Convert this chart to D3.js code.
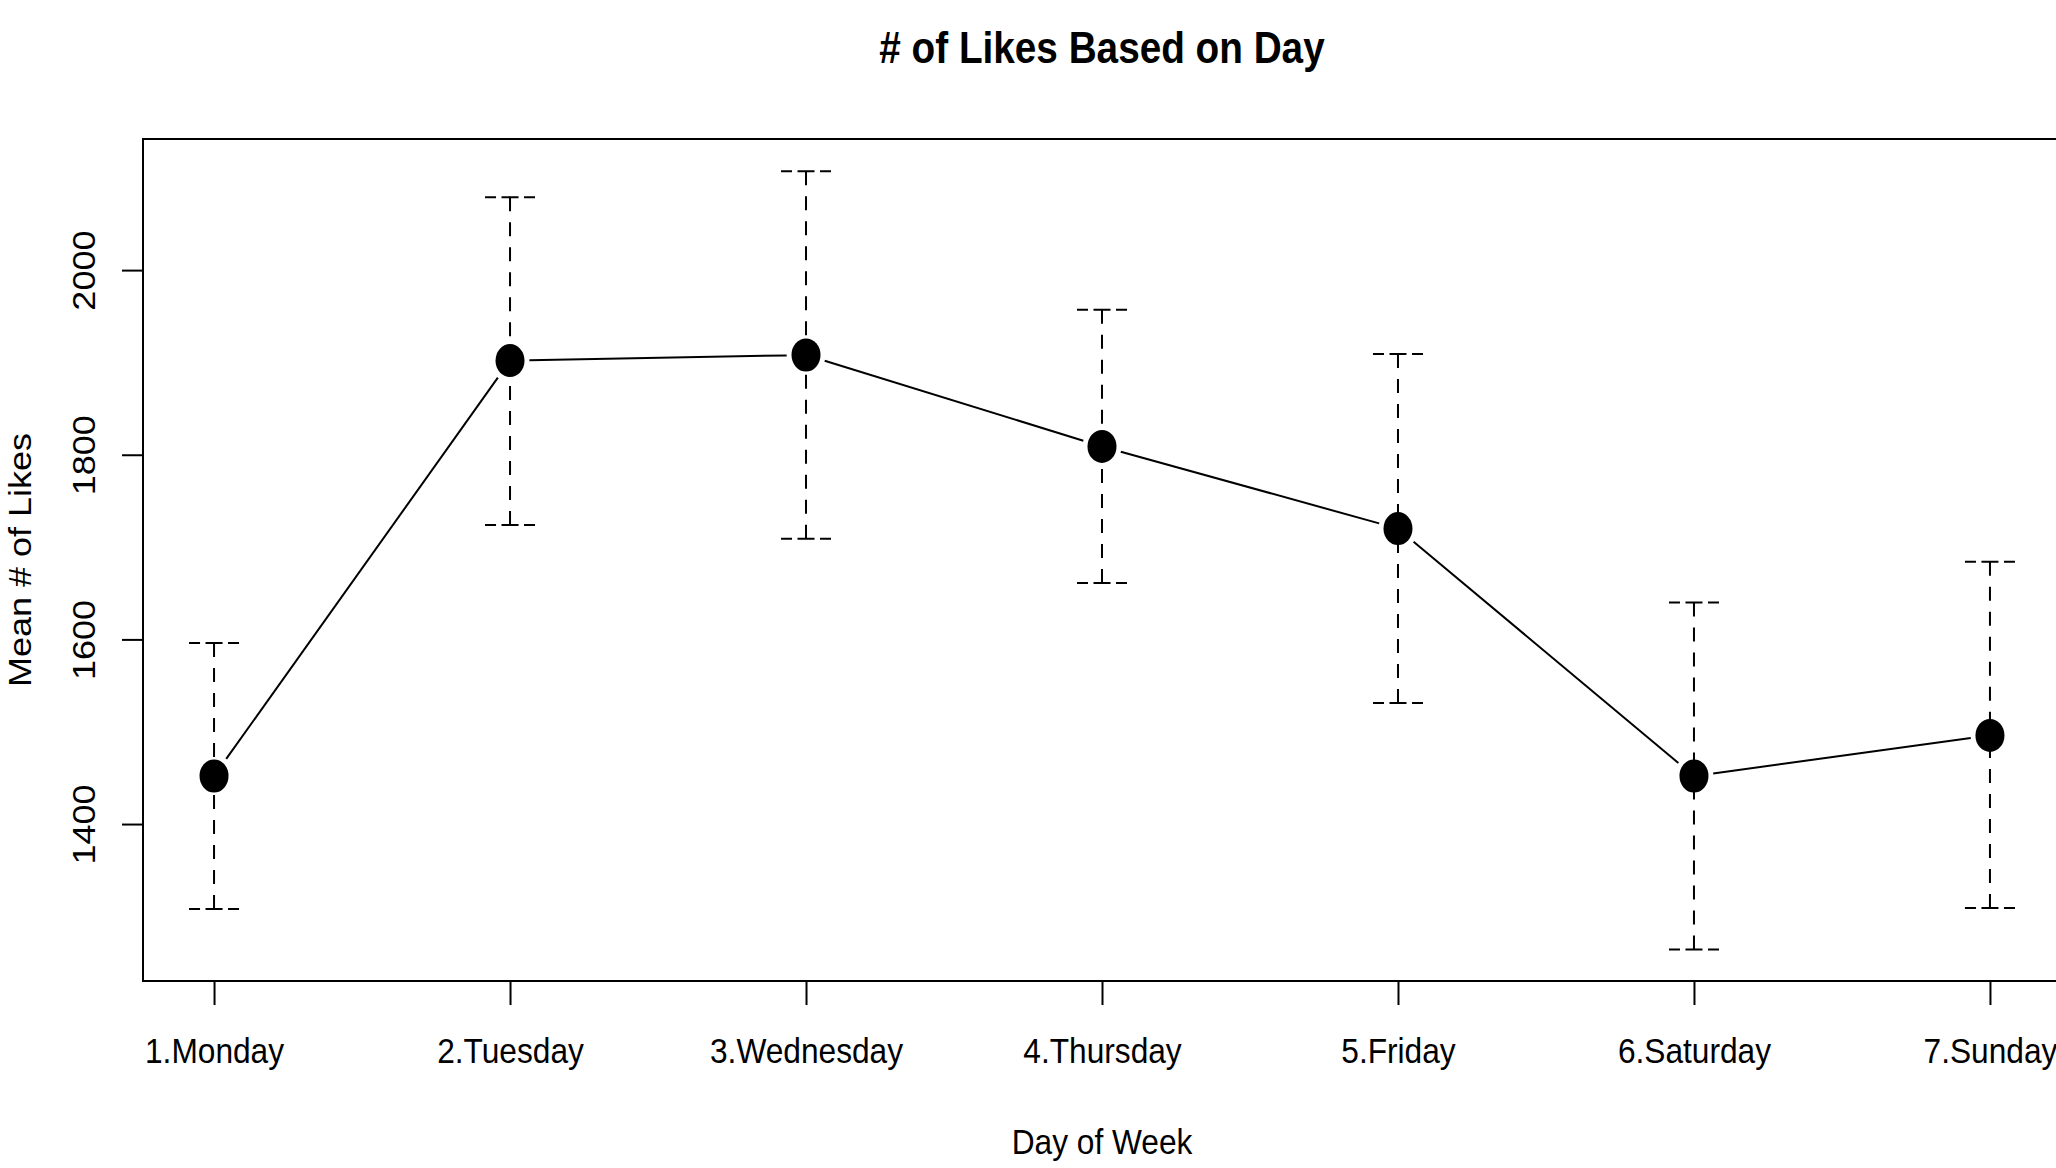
<!DOCTYPE html>
<html>
<head>
<meta charset="utf-8">
<script src="https://cdn.jsdelivr.net/npm/d3@7"></script>
<style>
  html, body { margin: 0; padding: 0; background: #fff; overflow: hidden; }
  svg { display: block; }
  text { font-family: "Liberation Sans", Arial, Helvetica, sans-serif; fill: #000; }
</style>
</head>
<body>
<svg id="chart" width="2056" height="1168"></svg>
<script>
// Mean likes per weekday with the upper / lower ends of each error bar
const days = ["1.Monday", "2.Tuesday", "3.Wednesday", "4.Thursday", "5.Friday", "6.Saturday", "7.Sunday"];
const dayIndex = [1, 2, 3, 4, 5, 6, 7];
const meanLikes = [1452, 1902, 1908, 1809, 1720, 1452, 1496];
const upperLikes = [1596, 2079, 2107, 1957, 1909, 1640, 1684];
const lowerLikes = [1308, 1724, 1709, 1661, 1531, 1264, 1309];
const yTicks = [1400, 1600, 1800, 2000];

const W = 2056, H = 1168;
const plot = { left: 143, right: 2061, top: 139, bottom: 981 };
const SX = 0.88;          // horizontal squeeze of glyphs and point markers
const INK = "#000";

const svg = d3.select("#chart");

const x = d3.scaleLinear().domain([0.76, 7.24]).range([plot.left, plot.right]);
const y = d3.scaleLinear().domain([1230, 2142]).range([plot.bottom, plot.top]);

const rows = dayIndex.map((d, i) => ({
  d, label: days[i], mean: meanLikes[i], hi: upperLikes[i], lo: lowerLikes[i]
}));

// plot frame
svg.append("rect")
  .attr("x", plot.left).attr("y", plot.top)
  .attr("width", plot.right - plot.left).attr("height", plot.bottom - plot.top)
  .attr("fill", "none").attr("stroke", INK).attr("stroke-width", 2);

// x axis
const xAxis = svg.append("g")
  .attr("transform", `translate(0,${plot.bottom})`)
  .call(d3.axisBottom(x).tickValues(dayIndex).tickFormat((d, i) => days[i]).tickSize(24).tickSizeOuter(0));
xAxis.select(".domain").remove();
xAxis.selectAll(".tick line").attr("stroke", INK).attr("stroke-width", 2);
xAxis.selectAll(".tick text")
  .attr("y", 82).attr("dy", 0)
  .attr("font-size", 36)
  .attr("fill", INK)
  .attr("transform", `scale(${SX},1)`);

// y axis with labels running along the axis
const yAxis = svg.append("g")
  .attr("transform", `translate(${plot.left},0)`)
  .call(d3.axisLeft(y).tickValues(yTicks).tickFormat(d3.format("d")).tickSize(21).tickSizeOuter(0));
yAxis.select(".domain").remove();
yAxis.selectAll(".tick line").attr("stroke", INK).attr("stroke-width", 2);
yAxis.selectAll(".tick text")
  .attr("x", 0).attr("y", 0).attr("dy", 0)
  .attr("text-anchor", "middle")
  .attr("font-size", 36)
  .attr("fill", INK)
  .attr("transform", `translate(-48,0) scale(${SX},1) rotate(-90)`);

// error bars: dashed stems drawn from each cap toward the mean
const bars = svg.append("g").attr("stroke", INK).attr("stroke-width", 2).attr("fill", "none");
rows.forEach(r => {
  const cx = x(r.d);
  [r.hi, r.lo].forEach(v => {
    bars.append("line")
      .attr("x1", cx).attr("y1", y(v)).attr("x2", cx).attr("y2", y(r.mean))
      .attr("stroke-dasharray", "14,11");
    // cap: two halves from the outer ends in to the centre
    [-25, 25].forEach(off => {
      bars.append("line")
        .attr("x1", cx + off).attr("y1", y(v)).attr("x2", cx).attr("y2", y(v))
        .attr("stroke-dasharray", "11,5.5");
    });
  });
});

// connecting line, broken around each point
const GAP = 22;
const links = svg.append("g").attr("stroke", INK).attr("stroke-width", 2);
d3.pairs(rows).forEach(([a, b]) => {
  const x1 = x(a.d), y1 = y(a.mean), x2 = x(b.d), y2 = y(b.mean);
  const dx = (x2 - x1) / SX, dy = y2 - y1;
  const len = Math.hypot(dx, dy);
  const ux = dx / len, uy = dy / len;
  links.append("line")
    .attr("x1", x1 + ux * GAP * SX).attr("y1", y1 + uy * GAP)
    .attr("x2", x2 - ux * GAP * SX).attr("y2", y2 - uy * GAP);
});

// mean markers
svg.append("g").selectAll("ellipse")
  .data(rows)
  .join("ellipse")
  .attr("cx", r => x(r.d))
  .attr("cy", r => y(r.mean))
  .attr("rx", 14.5)
  .attr("ry", 16.5)
  .attr("fill", INK);

// titles
svg.append("text")
  .attr("text-anchor", "middle")
  .attr("font-size", 44)
  .attr("font-weight", "bold")
  .attr("transform", `translate(${(plot.left + plot.right) / 2},63) scale(${SX},1)`)
  .text("# of Likes Based on Day");

svg.append("text")
  .attr("text-anchor", "middle")
  .attr("font-size", 36)
  .attr("transform", `translate(${(plot.left + plot.right) / 2},1154) scale(${SX},1)`)
  .text("Day of Week");

svg.append("text")
  .attr("text-anchor", "middle")
  .attr("font-size", 36)
  .attr("transform", `translate(31,${(plot.top + plot.bottom) / 2}) scale(${SX},1) rotate(-90)`)
  .text("Mean # of Likes");
</script>
</body>
</html>
